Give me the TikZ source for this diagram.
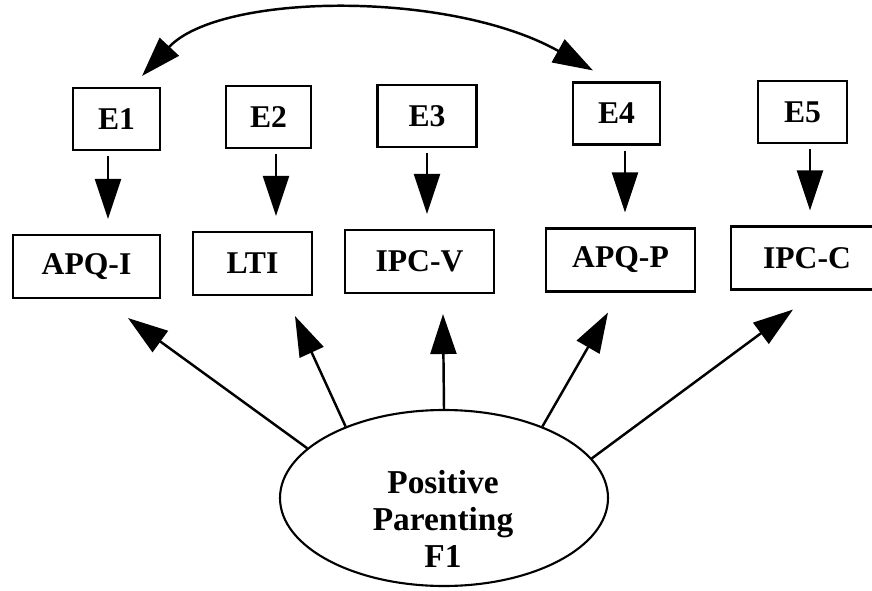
\documentclass[tikz,border=0pt]{standalone}
\usepackage{fontspec}
\setmainfont{Liberation Serif}
\usetikzlibrary{arrows.meta,positioning,shapes,calc}

\begin{document}
\begin{tikzpicture}[>={Triangle[length=8mm,width=5.2mm]},line width=1.4pt]
    \tikzstyle{ebox}=[rectangle,draw,line width=1.2pt,minimum width=17.4mm,minimum height=12.4mm,font=\fontsize{18}{20}\selectfont\bfseries]
    \tikzstyle{ibox}=[rectangle,draw,line width=1.2pt,minimum width=29.4mm,minimum height=12.6mm,font=\fontsize{18}{20}\selectfont\bfseries]
    \tikzstyle{earrow}=[->,shorten <=1mm,shorten >=3mm]
    \useasboundingbox (0,0) rectangle (17.44,11.8);
    % error terms
    \node[ebox] (e1) at (2.33,9.42) {E1};
    \node[ebox,minimum width=17mm] (e2) at (5.37,9.46) {E2};
    \node[ebox,minimum width=19.8mm] (e3) at (8.54,9.48) {E3};
    \node[ebox] (e4) at (12.33,9.53) {E4};
    \node[ebox,minimum width=17.8mm] (e5) at (16.05,9.56) {E5};
    % indicators
    \node[ibox] (apqi) at (1.73,6.47) {APQ-I};
    \node[ibox,minimum width=23.8mm] (lti) at (5.05,6.53) {LTI};
    \node[ibox,minimum width=29.8mm] (ipcv) at (8.39,6.57) {IPC-V};
    \node[ibox,minimum width=29.8mm] (apqp) at (12.41,6.60) {APQ-P};
    \node[ibox,minimum width=30.4mm] (ipcc) at (16.14,6.64) {IPC-C};
    % factor
    \node[ellipse,draw,line width=1.2pt,minimum width=65.6mm,minimum height=35.2mm] (f1) at (8.88,1.84) {};
    \node[align=center,font=\fontsize{19}{21}\selectfont\bfseries] (f1lab) at (8.86,1.42) {Positive\\Parenting\\F1};
    % errors to indicators
    \draw[earrow] ([xshift=-1.7mm]e1.south) -- ([xshift=-1.7mm]e1.south |- apqi.north);
    \draw[earrow] ([xshift=1.5mm]e2.south) -- ([xshift=1.5mm]e2.south |- lti.north);
    \draw[earrow] (e3.south) -- (e3.south |- ipcv.north);
    \draw[earrow] ([xshift=1.7mm]e4.south) -- ([xshift=1.7mm]e4.south |- apqp.north);
    \draw[earrow] ([xshift=1.5mm]e5.south) -- ([xshift=1.5mm]e5.south |- ipcc.north);
    % factor to indicators
    \draw[->] (f1.160) -- ([xshift=8.3mm,yshift=-3.8mm]apqi.south);
    \draw[->] (f1.144) -- ([xshift=8.5mm,yshift=-4mm]lti.south);
    \draw[->] (f1.90) -- ([xshift=4.7mm,yshift=-4mm]ipcv.south);
    \draw[->] (f1.36) -- ([xshift=-2.5mm,yshift=-4mm]apqp.south);
    \draw[->] (f1.15) -- ([xshift=-2.8mm,yshift=-3.8mm]ipcc.south);
    % correlated errors
    \draw[<->] ([xshift=-3.8mm,yshift=2.2mm]e1.north east) .. controls (4.4,11.95) and (9.0,12.0) .. ([xshift=4.2mm,yshift=2.2mm]e4.north west);
  \end{tikzpicture}
\end{document}
